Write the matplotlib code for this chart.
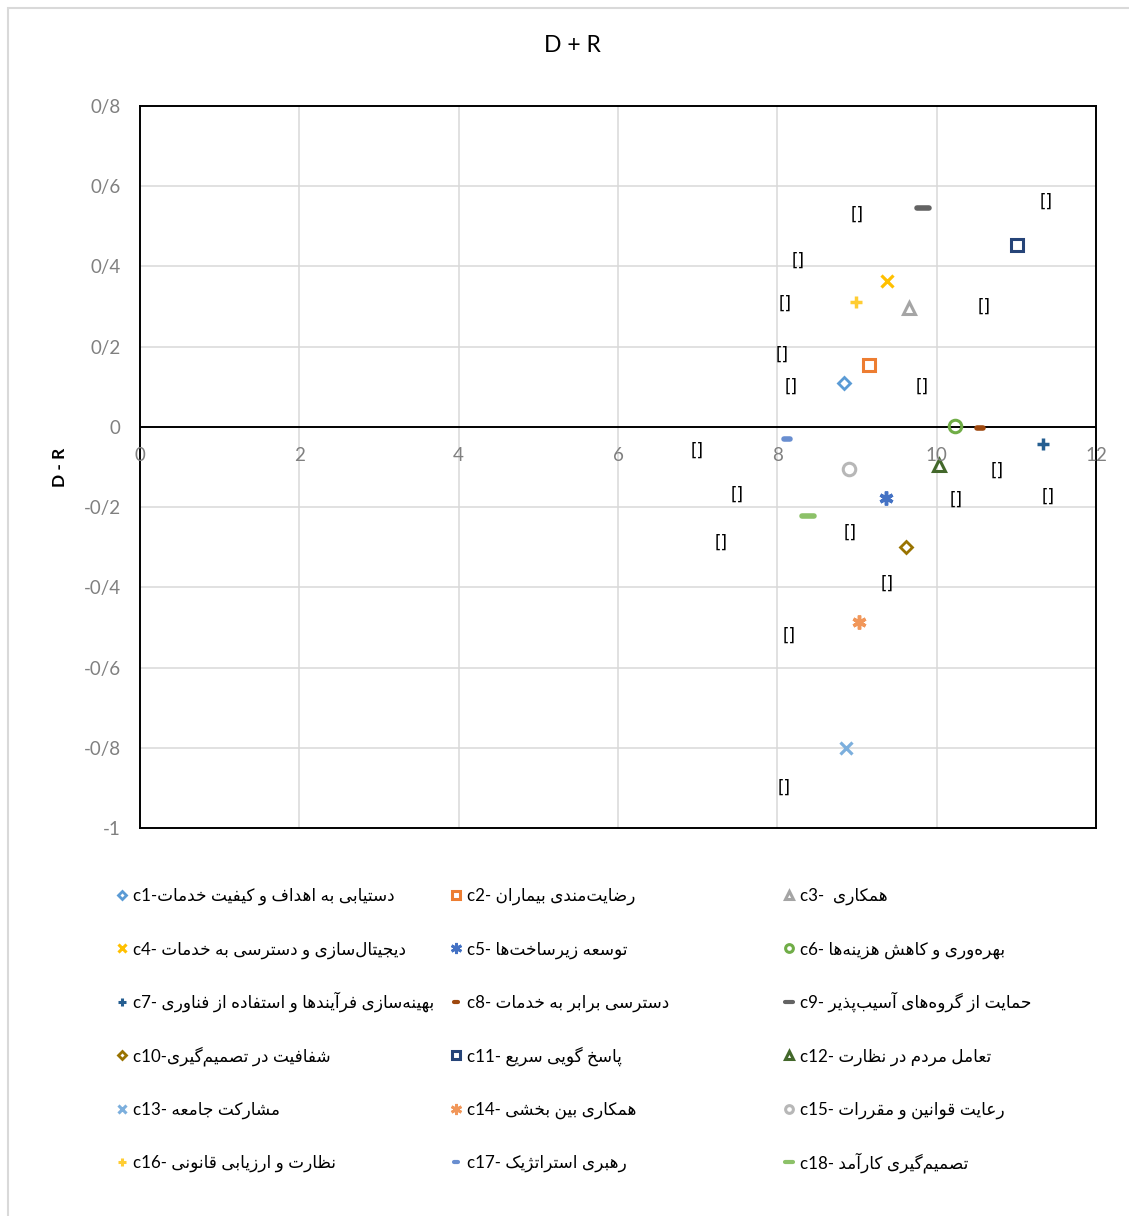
import numpy as np
import matplotlib
matplotlib.use("Agg")
import matplotlib.pyplot as plt
from matplotlib.markers import MarkerStyle
from matplotlib.patches import Rectangle
from matplotlib.transforms import ScaledTranslation

# داده‌ها: D+R (افقی) و D-R (عمودی) برای هر معیار
codes = ["c1", "c2", "c3", "c4", "c5", "c6", "c7", "c8", "c9",
         "c10", "c11", "c12", "c13", "c14", "c15", "c16", "c17", "c18"]
names = [
    "دستیابی به اهداف و کیفیت خدمات",
    "رضایت\u200cمندی بیماران",
    "همکاری",
    "دیجیتال\u200cسازی و دسترسی به خدمات",
    "توسعه زیرساخت\u200cها",
    "بهره\u200cوری و کاهش هزینه\u200cها",
    "بهینه\u200cسازی فرآیندها و استفاده از فناوری",
    "دسترسی برابر به خدمات",
    "حمایت از گروه\u200cهای آسیب\u200cپذیر",
    "شفافیت در تصمیم\u200cگیری",
    "پاسخ گویی سریع",
    "تعامل مردم در نظارت",
    "مشارکت جامعه",
    "همکاری بین بخشی",
    "رعایت قوانین و مقررات",
    "نظارت و ارزیابی قانونی",
    "رهبری استراتژیک",
    "تصمیم\u200cگیری کارآمد",
]
d_plus_r = [8.84, 9.15, 9.65, 9.38, 9.36, 10.23, 11.33, 10.54, 9.83,
            9.61, 11.01, 10.03, 8.86, 9.02, 8.90, 8.99, 8.12, 8.38]
d_minus_r = [0.110, 0.155, 0.297, 0.364, -0.177, 0.003, -0.042, -0.002, 0.546,
             -0.299, 0.454, -0.095, -0.800, -0.486, -0.105, 0.312, -0.030, -0.222]

# برچسب‌های داده (خالی، به شکل [])
label_x = [9.00, 11.38, 8.26, 8.10, 10.59, 8.06, 8.17, 9.82, 6.99,
           10.76, 7.49, 10.25, 11.40, 8.91, 7.29, 9.38, 8.15, 8.08]
label_y = [0.529, 0.561, 0.414, 0.307, 0.299, 0.180, 0.100, 0.100, -0.060,
           -0.110, -0.170, -0.182, -0.175, -0.264, -0.289, -0.392, -0.521, -0.900]

x_ticks = [0, 2, 4, 6, 8, 10, 12]
y_ticks = [0.8, 0.6, 0.4, 0.2, 0, -0.2, -0.4, -0.6, -0.8, -1]

# --- شکل‌دهی ساده حروف فارسی (matplotlib خودش اتصال حروف را انجام نمی‌دهد)
FORMS = {
    "ا": (0xFE8D, 0xFE8E, None, None), "آ": (0xFE81, 0xFE82, None, None),
    "ب": (0xFE8F, 0xFE90, 0xFE91, 0xFE92), "پ": (0xFB56, 0xFB57, 0xFB58, 0xFB59),
    "ت": (0xFE95, 0xFE96, 0xFE97, 0xFE98), "ث": (0xFE99, 0xFE9A, 0xFE9B, 0xFE9C),
    "ج": (0xFE9D, 0xFE9E, 0xFE9F, 0xFEA0), "چ": (0xFB7A, 0xFB7B, 0xFB7C, 0xFB7D),
    "ح": (0xFEA1, 0xFEA2, 0xFEA3, 0xFEA4), "خ": (0xFEA5, 0xFEA6, 0xFEA7, 0xFEA8),
    "د": (0xFEA9, 0xFEAA, None, None), "ذ": (0xFEAB, 0xFEAC, None, None),
    "ر": (0xFEAD, 0xFEAE, None, None), "ز": (0xFEAF, 0xFEB0, None, None),
    "ژ": (0xFB8A, 0xFB8B, None, None),
    "س": (0xFEB1, 0xFEB2, 0xFEB3, 0xFEB4), "ش": (0xFEB5, 0xFEB6, 0xFEB7, 0xFEB8),
    "ص": (0xFEB9, 0xFEBA, 0xFEBB, 0xFEBC), "ض": (0xFEBD, 0xFEBE, 0xFEBF, 0xFEC0),
    "ط": (0xFEC1, 0xFEC2, 0xFEC3, 0xFEC4), "ظ": (0xFEC5, 0xFEC6, 0xFEC7, 0xFEC8),
    "ع": (0xFEC9, 0xFECA, 0xFECB, 0xFECC), "غ": (0xFECD, 0xFECE, 0xFECF, 0xFED0),
    "ف": (0xFED1, 0xFED2, 0xFED3, 0xFED4), "ق": (0xFED5, 0xFED6, 0xFED7, 0xFED8),
    "ک": (0xFB8E, 0xFB8F, 0xFB90, 0xFB91), "گ": (0xFB92, 0xFB93, 0xFB94, 0xFB95),
    "ل": (0xFEDD, 0xFEDE, 0xFEDF, 0xFEE0), "م": (0xFEE1, 0xFEE2, 0xFEE3, 0xFEE4),
    "ن": (0xFEE5, 0xFEE6, 0xFEE7, 0xFEE8), "ه": (0xFEE9, 0xFEEA, 0xFEEB, 0xFEEC),
    "و": (0xFEED, 0xFEEE, None, None), "ی": (0xFBFC, 0xFBFD, 0xFBFE, 0xFBFF),
}


def persian_visual(text):
    out = []
    n = len(text)
    for i, ch in enumerate(text):
        if ch not in FORMS:
            if ch != "\u200c":
                out.append(ch)
            continue
        iso, fin, ini, med = FORMS[ch]
        prev = text[i - 1] if i > 0 else ""
        nxt = text[i + 1] if i < n - 1 else ""
        join_prev = prev in FORMS and FORMS[prev][2] is not None
        join_next = ini is not None and nxt in FORMS
        if join_prev and join_next:
            code = med
        elif join_prev:
            code = fin
        elif join_next:
            code = ini
        else:
            code = iso
        out.append(chr(code))
    return "".join(reversed(out))


separators = ["-", "- ", "-  ", "- ", "- ", "- ", "- ", "- ", "- ",
              "-", "- ", "- ", "- ", "- ", "- ", "- ", "- ", "- "]
legend_labels = [c + s + persian_visual(t) for c, s, t in zip(codes, separators, names)]

# --- نشانگرها
star = (6, 2, 0)
dash = MarkerStyle("_", capstyle="round")

styles = [
    dict(marker="D", color="#5B9BD5", ms=6.5, mew=2),
    dict(marker="s", color="#ED7D31", ms=8.5, mew=2.2),
    dict(marker="^", color="#A5A5A5", ms=9, mew=2.2),
    dict(marker="x", color="#FFC000", ms=8.5, mew=2.3),
    dict(marker=star, color="#4472C4", ms=10, mew=2.5),
    dict(marker="o", color="#70AD47", ms=9, mew=2.2),
    dict(marker="+", color="#255E91", ms=9, mew=2.5),
    dict(marker=dash, color="#9E480E", ms=5, mew=4),
    dict(marker=dash, color="#636363", ms=9, mew=4),
    dict(marker="D", color="#997300", ms=6.5, mew=2),
    dict(marker="s", color="#264478", ms=8.5, mew=2.2),
    dict(marker="^", color="#43682B", ms=9, mew=2.2),
    dict(marker="x", color="#7CAFDD", ms=8.5, mew=2.3),
    dict(marker=star, color="#F1975A", ms=10, mew=2.5),
    dict(marker="o", color="#B7B7B7", ms=9, mew=2.2),
    dict(marker="+", color="#FFCD33", ms=9, mew=2.5),
    dict(marker=dash, color="#698ED0", ms=5, mew=4),
    dict(marker=dash, color="#8CC168", ms=8.5, mew=4),
]

W, H = 1129, 1216
fig = plt.figure(figsize=(W / 100, H / 100), dpi=100)
fig.patches.append(Rectangle((8 / W, -0.1), 1.2, (H - 8) / H + 0.1, transform=fig.transFigure,
                             fill=False, edgecolor="#D9D9D9", linewidth=1.5))

ax = fig.add_axes([140 / W, 1 - 828 / H, 956 / W, 722 / H])
ax.set_xlim(0, 12)
ax.set_ylim(-1, 0.8)

for xv, yv, st in zip(d_plus_r, d_minus_r, styles):
    ax.plot([xv], [yv], linestyle="none", marker=st["marker"], markersize=st["ms"],
            markeredgewidth=st["mew"], markeredgecolor=st["color"],
            markerfacecolor="none", zorder=3)

for lx, ly in zip(label_x, label_y):
    ax.text(lx, ly, "[]", ha="center", va="center", fontsize=12, color="black",
            family="DejaVu Sans")

ax.set_xticks(x_ticks)
ax.set_yticks(y_ticks)
ax.set_yticklabels([f"{v:g}".replace(".", "/") for v in y_ticks])
ax.tick_params(axis="x", length=0, labelbottom=False)
ax.tick_params(axis="y", length=0, pad=14, labelsize=13.5, labelcolor="#808080")
for lab in ax.get_yticklabels():
    lab.set_family(["Lato", "DejaVu Sans"])
ax.grid(True, color="#D9D9D9", linewidth=1.1)
ax.set_axisbelow(True)
for sp in ax.spines.values():
    sp.set_color("black")
    sp.set_linewidth(1.4)

# محور افقی در y=0 با برچسب‌های زیر آن
ax.axhline(0, color="black", linewidth=1.4, zorder=2)
offset = ax.transData + ScaledTranslation(0, -0.29, fig.dpi_scale_trans)
for v in x_ticks:
    ax.text(v, 0, str(v), transform=offset, ha="center", va="center", fontsize=13.5,
            color="#808080", family=["Lato", "DejaVu Sans"], clip_on=False)

fig.text(572 / W, 1 - 45 / H, "D + R", ha="center", va="center", fontsize=16.5,
         family=["Lato", "DejaVu Sans"])
fig.text(60 / W, 1 - 467 / H, "D - R", ha="center", va="center", fontsize=12.5,
         fontweight="bold", rotation=90, family=["Lato", "DejaVu Sans"])

# راهنما: سه ستون، ترتیب سطری، روی یک محور کمکی با مختصات پیکسلی
lax = fig.add_axes([0, 0, 1, 1], zorder=-1)
lax.set_xlim(0, W)
lax.set_ylim(H, 0)
lax.axis("off")
col_x = [122, 456, 789]
row_y0, row_step = 895, 53.4
for i, (lab, st) in enumerate(zip(legend_labels, styles)):
    mx = col_x[i % 3]
    my = row_y0 + row_step * (i // 3)
    if st["marker"] == dash:
        ms, mew = st["ms"] * 0.62, 3
    elif st["marker"] == star:
        ms, mew = 8, 2
    else:
        ms, mew = st["ms"] * 0.62, min(st["mew"], 2.2)
    lax.plot([mx], [my], linestyle="none", marker=st["marker"], markersize=ms,
             markeredgewidth=mew, markeredgecolor=st["color"], markerfacecolor="none")
    lax.text(mx + 11, my + 6, lab, ha="left", va="baseline", fontsize=12.2,
             family=["Lato", "DejaVu Sans"])

fig.savefig("out.png", dpi=100)
